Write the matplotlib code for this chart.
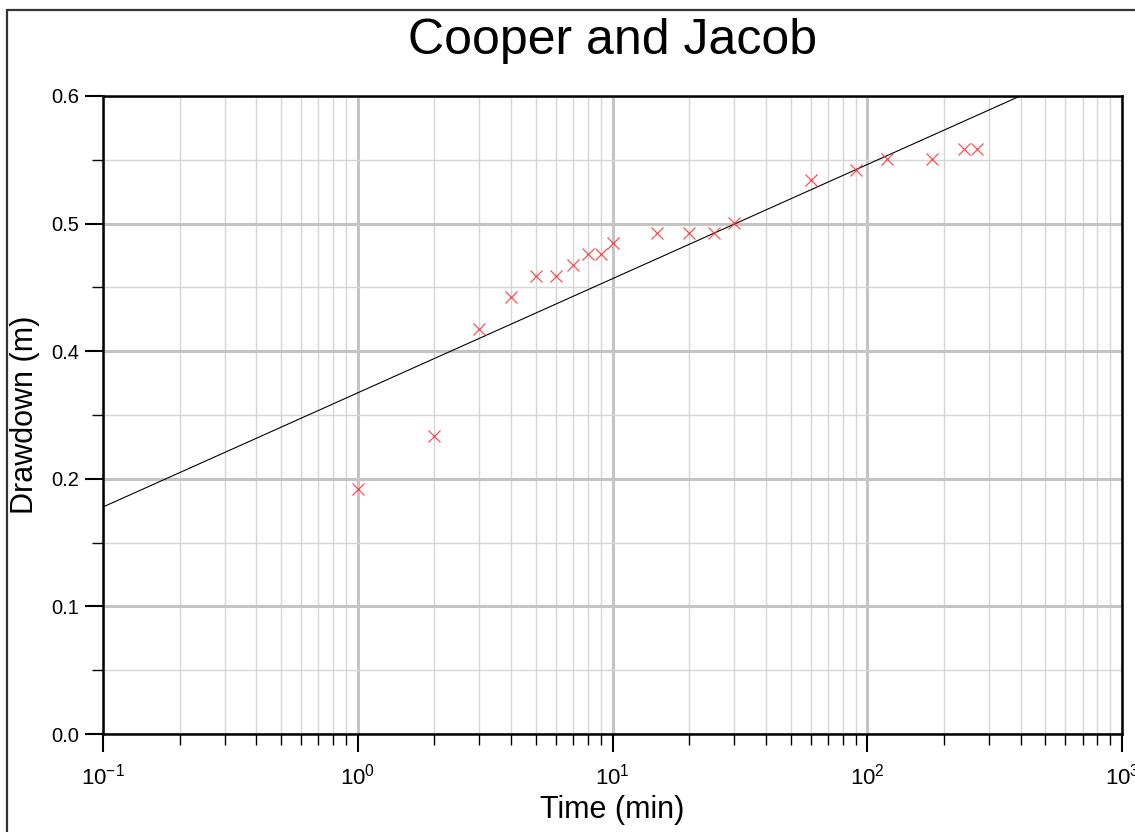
import matplotlib
matplotlib.use("Agg")
import matplotlib.pyplot as plt
from matplotlib.patches import Rectangle
from matplotlib.ticker import FixedLocator, FixedFormatter, LogLocator, LogFormatterSciNotation, NullFormatter
import numpy as np

plt.rcParams["font.family"] = ["Liberation Sans", "DejaVu Sans"]
plt.rcParams["mathtext.fontset"] = "custom"
plt.rcParams["mathtext.rm"] = "Liberation Sans"
plt.rcParams["mathtext.it"] = "Liberation Sans"

# measured drawdown
time_min = [1, 2, 3, 4, 5, 6, 7, 8, 9, 10, 15, 20, 25, 30, 60, 90, 120, 180, 240, 270]
drawdown_m = [0.230, 0.280, 0.381, 0.411, 0.431, 0.431, 0.441, 0.451, 0.451, 0.462,
              0.471, 0.471, 0.471, 0.481, 0.521, 0.530, 0.541, 0.541, 0.550, 0.550]

# Cooper-Jacob straight line (end points)
fit_time = [0.1, 1000]
fit_drawdown = [0.2135, 0.6429]

# y ticks: software put 5 equal intervals on 0..0.6 and rounded labels
y_major = [0.0, 0.12, 0.24, 0.36, 0.48, 0.60]
y_labels = ["0.0", "0.1", "0.2", "0.4", "0.5", "0.6"]
y_minor = [0.06, 0.18, 0.30, 0.42, 0.54]

W, H = 1135, 832
fig = plt.figure(figsize=(W / 100, H / 100), dpi=100)
ax = fig.add_axes([103 / W, 1 - 734 / H, (1122 - 103) / W, (734 - 96) / H])

# outer frame (cut off at right/bottom)
fig.add_artist(Rectangle((7 / W, -0.2), 2.0, (H - 10) / H + 0.2, transform=fig.transFigure,
                         fill=False, edgecolor="#333333", lw=1.6, clip_on=False))

ax.set_xscale("log")
ax.set_xlim(0.1, 1000)
ax.set_ylim(0, 0.6)

ax.xaxis.set_major_locator(LogLocator(base=10, numticks=10))
ax.xaxis.set_minor_locator(LogLocator(base=10, subs=np.arange(2, 10), numticks=20))
ax.xaxis.set_major_formatter(LogFormatterSciNotation())
ax.xaxis.set_minor_formatter(NullFormatter())

ax.yaxis.set_major_locator(FixedLocator(y_major))
ax.yaxis.set_major_formatter(FixedFormatter(y_labels))
ax.yaxis.set_minor_locator(FixedLocator(y_minor))

ax.grid(which="major", color="#c4c4c4", lw=2.2)
ax.grid(which="minor", color="#d6d6d6", lw=1.0)
ax.set_axisbelow(True)

ax.plot(fit_time, fit_drawdown, color="black", lw=0.8, zorder=3)
ax.plot(time_min, drawdown_m, linestyle="none", marker="x", color="#ff3030",
        markersize=9, markeredgewidth=0.9, alpha=0.85, zorder=4)

for s in ax.spines.values():
    s.set_linewidth(1.8)
    s.set_color("black")

ax.tick_params(which="major", direction="out", length=13, width=1.5, labelsize=14.5,
               top=False, right=False, pad=4)
ax.tick_params(which="minor", direction="out", length=8, width=1.0, top=False, right=False)
ax.tick_params(axis="x", which="major", pad=8, labelsize=16)

ax.set_xlabel("Time (min)", fontsize=22, labelpad=4)
ax.set_ylabel("Drawdown (m)", fontsize=22, labelpad=8)
ax.set_title("Cooper and Jacob", fontsize=36, pad=30)

fig.savefig("out.png", dpi=100)
